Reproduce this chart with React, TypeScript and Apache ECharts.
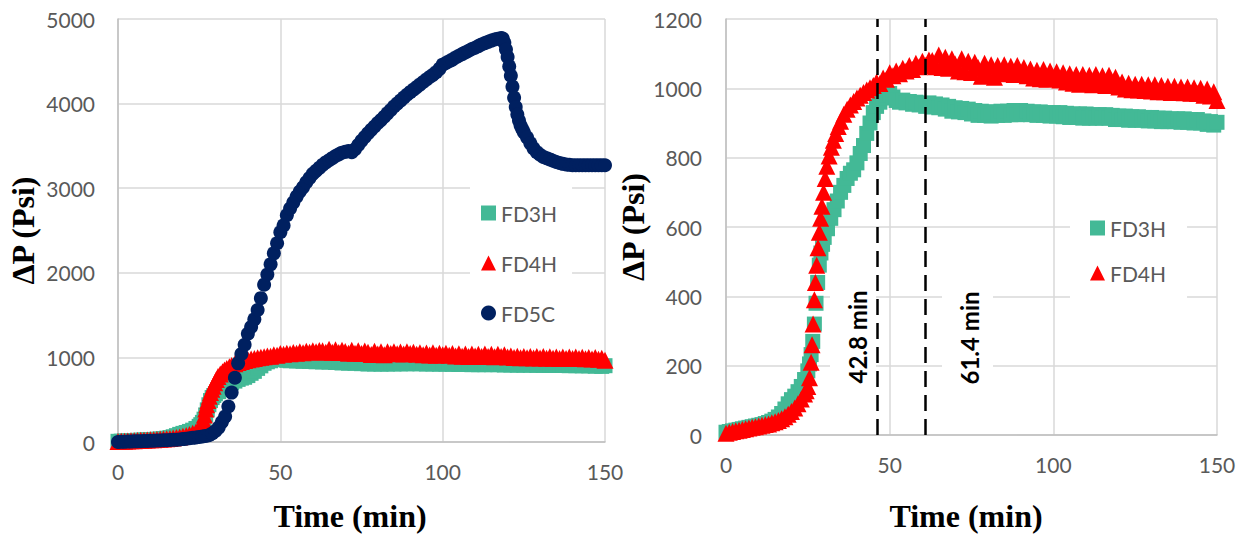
import React, { useEffect, useRef } from "react";
import * as echarts from "echarts";

// ---- data (time in min, ΔP in psi) ----
const fd3h: [number, number][] = [
  [0, 8], [1, 10], [2, 12], [3, 14], [4, 16], [5, 18], [6, 20], [7, 22], [8, 24], [9, 26],
  [10, 28], [11, 30], [12, 33], [13, 36], [14, 40], [15, 45], [16, 52], [17, 62], [18, 75], [19, 90],
  [20, 102], [21, 112], [22, 125], [23, 140], [24, 160], [25, 185], [25.5, 205], [26, 232], [26.5, 270], [27, 320],
  [27.5, 380], [28, 440], [28.5, 490], [29, 525], [29.5, 550], [30, 570], [31, 595], [32, 625], [33, 650], [34, 675],
  [35, 700], [36, 720], [37, 740], [38, 755], [39, 765], [40, 785], [41, 812], [42, 835], [43, 870], [44, 900],
  [45, 930], [46, 948], [47, 960], [48, 972], [49, 982], [50, 985], [51, 975], [52, 965], [53, 960], [54, 966],
  [55, 958], [56, 962], [57, 954], [58, 960], [59, 952], [60, 955], [61, 948], [62, 958], [63, 946], [64, 955],
  [65, 944], [66, 952], [67, 940], [68, 948], [69, 934], [70, 944], [71, 932], [72, 942], [73, 930], [74, 940],
  [75, 926], [76, 936], [77, 922], [78, 934], [79, 922], [80, 932], [81, 920], [82, 932], [83, 922], [84, 934],
  [85, 922], [86, 934], [87, 924], [88, 936], [89, 924], [90, 936], [91, 926], [92, 934], [93, 924], [94, 932],
  [95, 922], [96, 932], [97, 922], [98, 930], [99, 920], [100, 930], [101, 920], [102, 930], [103, 918], [104, 928],
  [105, 916], [106, 926], [107, 916], [108, 926], [109, 914], [110, 926], [111, 914], [112, 924], [113, 914], [114, 924],
  [115, 914], [116, 924], [117, 914], [118, 922], [119, 910], [120, 920], [121, 910], [122, 920], [123, 908], [124, 918],
  [125, 908], [126, 918], [127, 908], [128, 916], [129, 906], [130, 916], [131, 906], [132, 914], [133, 904], [134, 914],
  [135, 904], [136, 912], [137, 904], [138, 912], [139, 902], [140, 912], [141, 902], [142, 910], [143, 900], [144, 910],
  [145, 900], [146, 906], [147, 896], [148, 904], [149, 894], [150, 902],
];

const fd4h: [number, number][] = [
  [0, 5], [1, 8], [2, 10], [3, 12], [4, 14], [5, 16], [6, 18], [7, 20], [8, 22], [9, 24],
  [10, 26], [11, 28], [12, 30], [13, 32], [14, 35], [15, 38], [16, 42], [17, 47], [18, 53], [19, 60],
  [20, 68], [21, 78], [22, 90], [23, 104], [24, 118], [24.5, 128], [25, 140], [25.5, 165], [26, 210], [26.3, 260],
  [26.6, 320], [27, 390], [27.3, 440], [27.7, 490], [28.1, 540], [28.5, 585], [28.9, 625], [29.3, 660], [29.8, 700], [30.3, 740],
  [30.8, 775], [31.5, 805], [32.2, 830], [32.8, 850], [33.5, 870], [34.3, 890], [35, 905], [36, 925], [37, 940], [38, 952],
  [39, 962], [40, 972], [41, 980], [42, 988], [43, 995], [44, 1002], [45, 1008], [46, 1018], [47, 1014], [48, 1030],
  [49, 1026], [50, 1045], [51, 1036], [52, 1050], [53, 1042], [54, 1058], [55, 1050], [56, 1066], [57, 1054], [58, 1072],
  [59, 1062], [60, 1078], [61, 1066], [62, 1082], [63, 1080], [64, 1062], [65, 1096], [66, 1060], [67, 1090], [68, 1058],
  [69, 1085], [70, 1070], [71, 1050], [72, 1085], [73, 1048], [74, 1078], [75, 1046], [76, 1075], [77, 1060], [78, 1035],
  [79, 1072], [80, 1040], [81, 1068], [82, 1032], [83, 1066], [84, 1045], [85, 1068], [86, 1042], [87, 1064], [88, 1040],
  [89, 1066], [90, 1045], [91, 1060], [92, 1036], [93, 1056], [94, 1030], [95, 1052], [96, 1028], [97, 1054], [98, 1026],
  [99, 1050], [100, 1030], [101, 1048], [102, 1024], [103, 1045], [104, 1018], [105, 1042], [106, 1015], [107, 1040], [108, 1012],
  [109, 1040], [110, 1016], [111, 1038], [112, 1010], [113, 1040], [114, 1012], [115, 1036], [116, 1008], [117, 1038], [118, 1010],
  [119, 1032], [120, 1004], [121, 1018], [122, 998], [123, 1015], [124, 996], [125, 1012], [126, 995], [127, 1012], [128, 994],
  [129, 1010], [130, 992], [131, 1010], [132, 990], [133, 1008], [134, 990], [135, 1006], [136, 988], [137, 1006], [138, 988],
  [139, 1004], [140, 987], [141, 1004], [142, 986], [143, 1002], [144, 985], [145, 1000], [146, 980], [147, 998], [148, 978],
  [149, 990], [150, 965],
];

const fd5c: [number, number][] = [
  [0, 0], [1, 2], [2, 4], [3, 5], [4, 6], [5, 8], [6, 9], [7, 10], [8, 12], [9, 13],
  [10, 15], [11, 16], [12, 18], [13, 19], [14, 20], [15, 22], [16, 24], [17, 26], [18, 28], [19, 31],
  [20, 34], [21, 38], [22, 44], [23, 49], [24, 54], [25, 60], [26, 66], [27, 72], [28, 80], [29, 100],
  [30, 130], [31, 170], [32, 235], [33, 300], [34, 420], [35, 584], [36, 760], [37, 930], [38, 1040], [39, 1150],
  [40, 1280], [41, 1360], [42, 1450], [43, 1560], [44, 1700], [45, 1860], [46, 1980], [47, 2100], [48, 2230], [49, 2350],
  [50, 2480], [51, 2560], [52, 2680], [53, 2760], [54, 2830], [55, 2900], [56, 2960], [57, 3010], [58, 3070], [59, 3120],
  [60, 3170], [61, 3205], [62, 3240], [63, 3275], [64, 3305], [65, 3330], [66, 3355], [67, 3380], [68, 3400], [69, 3420],
  [70, 3430], [71, 3440], [72, 3425], [73, 3460], [74, 3510], [75, 3560], [76, 3605], [77, 3650], [78, 3690], [79, 3730],
  [80, 3770], [81, 3805], [82, 3845], [83, 3885], [84, 3925], [85, 3965], [86, 4000], [87, 4035], [88, 4070], [89, 4105],
  [90, 4135], [91, 4165], [92, 4195], [93, 4225], [94, 4255], [95, 4285], [96, 4315], [97, 4340], [98, 4370], [99, 4410],
  [100, 4460], [101, 4480], [102, 4500], [103, 4520], [104, 4545], [105, 4565], [106, 4585], [107, 4605], [108, 4625], [109, 4645],
  [110, 4660], [111, 4680], [112, 4700], [113, 4715], [114, 4730], [115, 4745], [116, 4758], [117, 4768], [118, 4775], [118.5, 4770],
  [119, 4720], [119.5, 4640], [120, 4550], [120.5, 4440], [121, 4330], [121.5, 4200], [122, 4070], [122.5, 3960], [123, 3870], [123.5, 3800],
  [124, 3740], [124.5, 3700], [125, 3660], [126, 3600], [127, 3530], [128, 3470], [129, 3425], [130, 3395], [131, 3370], [132, 3355],
  [133, 3340], [134, 3325], [135, 3310], [136, 3298], [137, 3288], [138, 3280], [139, 3276], [140, 3272], [141, 3272], [142, 3272],
  [143, 3272], [144, 3272], [145, 3272], [146, 3272], [147, 3272], [148, 3272], [149, 3272], [150, 3272],
];

const eventTimes = [46.1, 60.8]; // dashed marker positions on the right chart
const eventLabels = ["42.8 min", "61.4 min"];

const COLORS = { fd3h: "#43B996", fd4h: "#FF0000", fd5c: "#002060" };

export default function App() {
  const ref = useRef<HTMLDivElement>(null);

  useEffect(() => {
    if (!ref.current) return;
    const chart = echarts.init(ref.current, undefined, { renderer: "svg" });

    const tickLabel = { color: "#595959", fontFamily: "Lato", fontSize: 21 };
    const nameStyle = {
      fontFamily: "Liberation Serif",
      fontWeight: "bold" as const,
      fontSize: 32,
      color: "#000",
    };
    const gridLine = { show: true, lineStyle: { color: "#D9D9D9", width: 1.5 } };
    const axisLine = { show: true, lineStyle: { color: "#BFBFBF", width: 1.5 } };

    const mkX = (i: number, gap: number, pad: number[]) => ({
      type: "value",
      gridIndex: i,
      min: 0,
      max: 150,
      interval: 50,
      axisLine,
      axisTick: { show: false },
      splitLine: gridLine,
      axisLabel: { ...tickLabel, margin: 19, formatter: (v: number) => String(v) },
      name: "Time (min)",
      nameLocation: "middle",
      nameGap: gap,
      nameTextStyle: { ...nameStyle, padding: pad },
    });
    const mkY = (i: number, max: number, interval: number, gap: number, margin: number) => ({
      type: "value",
      gridIndex: i,
      min: 0,
      max,
      interval,
      axisLine,
      axisTick: { show: false },
      splitLine: gridLine,
      axisLabel: { ...tickLabel, margin, formatter: (v: number) => String(v) },
      name: "ΔP (Psi)",
      nameLocation: "middle",
      nameGap: gap,
      nameTextStyle: nameStyle,
    });

    const sq = (i: number) => ({
      name: "FD3H",
      type: "scatter",
      xAxisIndex: i,
      yAxisIndex: i,
      data: fd3h,
      symbol: "rect",
      symbolSize: 15,
      itemStyle: { color: COLORS.fd3h, opacity: 1 },
      z: 2,
    });
    const tri = (i: number) => ({
      name: "FD4H",
      type: "scatter",
      xAxisIndex: i,
      yAxisIndex: i,
      data: fd4h,
      symbol: "triangle",
      symbolSize: 17,
      itemStyle: { color: COLORS.fd4h, opacity: 1 },
      z: 3,
    });

    const legendCommon = {
      orient: "vertical",
      backgroundColor: "#ffffff",
      itemWidth: 15,
      itemHeight: 15,
      textStyle: { color: "#595959", fontFamily: "Lato", fontSize: 21, lineHeight: 24 },
      selectedMode: false,
    };

    chart.setOption({
      animation: false,
      backgroundColor: "#ffffff",
      grid: [
        { left: 118, top: 19, width: 487, height: 428 },
        { left: 726, top: 19, width: 491, height: 417 },
      ],
      xAxis: [mkX(0, 58, [0, 23, 0, 0]), mkX(1, 65, [0, 11, 0, 0])],
      yAxis: [mkY(0, 5000, 1000, 79, 23), mkY(1, 1200, 200, 62, 24)],
      legend: [
        {
          ...legendCommon,
          left: 470,
          top: 180,
          padding: [21, 15, 12, 11],
          itemGap: 26,
          data: ["FD3H", "FD4H", "FD5C"],
        },
        {
          ...legendCommon,
          left: 1070,
          top: 200,
          padding: [16, 21, 13, 20],
          itemGap: 21,
          data: ["FD3H", "FD4H"],
        },
      ],
      graphic: [
        { type: "rect", z: 1, shape: { x: 830, y: 265, width: 46, height: 143 }, style: { fill: "#fff" } },
        { type: "rect", z: 1, shape: { x: 942, y: 265, width: 51, height: 135 }, style: { fill: "#fff" } },
        {
          type: "text",
          z: 10,
          x: 857,
          y: 337,
          rotation: Math.PI / 2,
          style: {
            text: eventLabels[0],
            fill: "#000",
            font: "bold 24px Lato",
            align: "center",
            verticalAlign: "middle",
          },
        },
        {
          type: "text",
          z: 10,
          x: 969,
          y: 338,
          rotation: Math.PI / 2,
          style: {
            text: eventLabels[1],
            fill: "#000",
            font: "bold 24px Lato",
            align: "center",
            verticalAlign: "middle",
          },
        },
      ],
      series: [
        sq(0),
        tri(0),
        {
          name: "FD5C",
          type: "scatter",
          xAxisIndex: 0,
          yAxisIndex: 0,
          data: fd5c,
          symbol: "circle",
          symbolSize: 14,
          itemStyle: { color: COLORS.fd5c, opacity: 1 },
          z: 4,
        },
        sq(1),
        {
          ...tri(1),
          markLine: {
            silent: true,
            symbol: ["none", "none"],
            label: { show: false },
            lineStyle: { color: "#000", type: [16, 8], width: 2.5 },
            data: eventTimes.map((t) => ({ xAxis: t })),
            z: 5,
          },
        },
      ],
    });

    return () => chart.dispose();
  }, []);

  return (
    <div
      ref={ref}
      style={{ position: "fixed", left: 0, top: 0, width: 1246, height: 537, background: "#fff" }}
    />
  );
}
